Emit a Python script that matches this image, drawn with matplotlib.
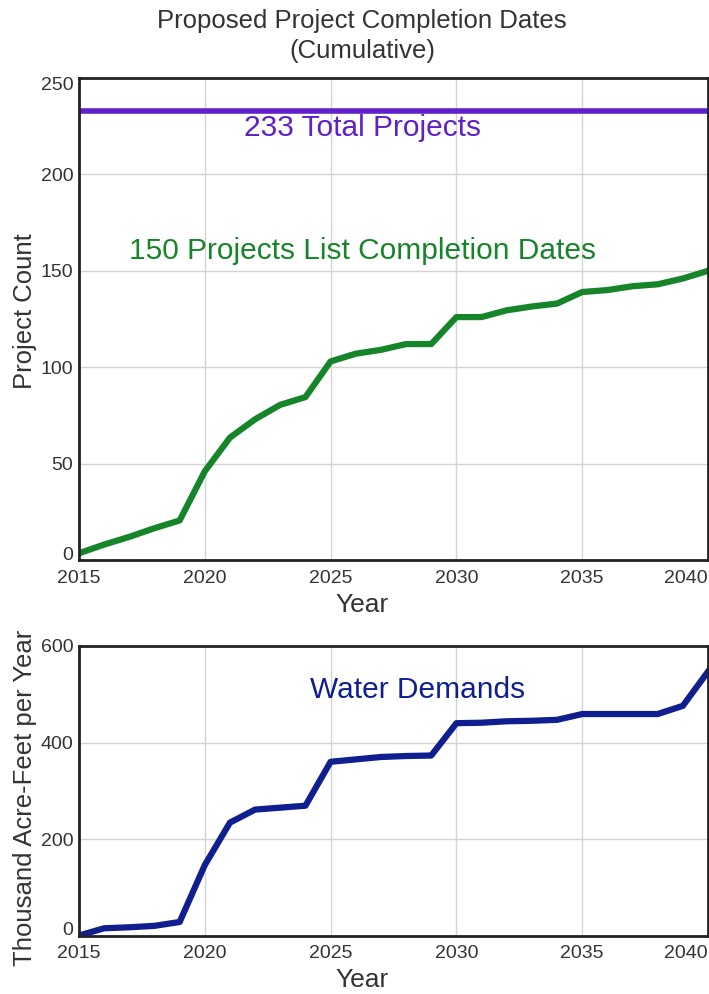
import matplotlib
matplotlib.use("Agg")
import matplotlib.pyplot as plt
from matplotlib.transforms import ScaledTranslation

plt.rcParams['font.family'] = ['Liberation Sans', 'DejaVu Sans']

years = list(range(2015, 2041))
project_counts = [3.5, 8, 12, 16.5, 20.5, 46, 63.5, 73, 80.5, 84.5, 103, 107, 109, 112, 112,
                  126, 126, 129.5, 131.5, 133, 139, 140, 142, 143, 146, 150]
total_projects = 233
water_demands = [0, 15, 17, 20, 28, 146, 234, 261, 265, 269, 360, 365, 370, 372, 373,
                 440, 441, 444, 445, 447, 459, 459, 459, 459, 476, 547]

x_ticks = [2015, 2020, 2025, 2030, 2035, 2040]
top_yticks = [0, 50, 100, 150, 200, 250]
bot_yticks = [0, 200, 400, 600]

W, H = 709, 994
fig = plt.figure(figsize=(W / 100, H / 100), dpi=100)
ax1 = fig.add_axes([79 / W, 1 - 560 / H, 629 / W, 482 / H])
ax2 = fig.add_axes([79 / W, 1 - 935.5 / H, 629 / W, 289.5 / H])

green = '#16852a'
purple = '#5f1fc9'
navy = '#0f1f8f'
tick_color = '#333333'

def shift(ax, idx, dy_px):
    t = ax.yaxis.get_major_ticks()[idx].label1
    t.set_transform(t.get_transform() + ScaledTranslation(0, dy_px / 100, fig.dpi_scale_trans))

def style(ax, yticks, ylim):
    ax.set_xlim(2015, 2040)
    ax.set_ylim(*ylim)
    ax.set_xticks(x_ticks)
    ax.set_yticks(yticks)
    ax.grid(True, color='#d4d4d4', linewidth=1.0)
    ax.set_axisbelow(True)
    for s in ax.spines.values():
        s.set_linewidth(2.0)
        s.set_color('#222222')
    ax.tick_params(axis='both', length=0, labelsize=14, colors=tick_color)
    ax.tick_params(axis='x', pad=7)
    ax.tick_params(axis='y', pad=4)
    ax.xaxis.get_major_ticks()[-1].label1.set_horizontalalignment('right')

ax1.plot(years, project_counts, color=green, linewidth=4.5, solid_joinstyle='round')
ax1.axhline(total_projects, color=purple, linewidth=4)
style(ax1, top_yticks, (0, 250))
shift(ax1, 0, 7)
shift(ax1, -1, -5)
ax1.text(2026.25, 224, '233 Total Projects', color=purple, fontsize=21.5, ha='center', va='center')
ax1.text(2026.25, 160.5, '150 Projects List Completion Dates', color=green, fontsize=21.5, ha='center', va='center')

ax2.plot(years, water_demands, color=navy, linewidth=4.5, solid_joinstyle='round')
style(ax2, bot_yticks, (0, 600))
shift(ax2, 0, 7)
ax2.text(2028.45, 509, 'Water Demands', color=navy, fontsize=21.5, ha='center', va='center')

fig.text(362 / W, 1 - 21 / H, 'Proposed Project Completion Dates', fontsize=18.5, ha='center', va='center', color=tick_color)
fig.text(362 / W, 1 - 51 / H, '(Cumulative)', fontsize=18.5, ha='center', va='center', color=tick_color)

fig.text(362 / W, 1 - 605 / H, 'Year', fontsize=19, ha='center', va='center', color=tick_color)
fig.text(362 / W, 1 - 980 / H, 'Year', fontsize=19, ha='center', va='center', color=tick_color)
fig.text(25 / W, 1 - 311 / H, 'Project Count', fontsize=18.5, rotation=90, ha='center', va='center', color=tick_color)
fig.text(25 / W, 1 - 798 / H, 'Thousand Acre-Feet per Year', fontsize=18.5, rotation=90, ha='center', va='center', color=tick_color)

fig.savefig('out.png', dpi=100)
